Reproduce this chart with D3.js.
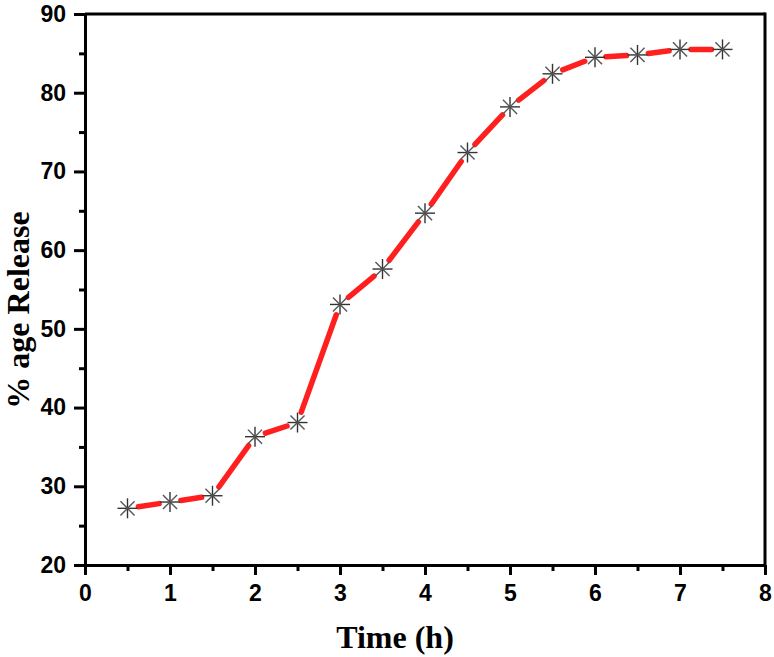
<!DOCTYPE html>
<html lang="en">
<head>
<meta charset="utf-8">
<script src="https://d3js.org/d3.v7.min.js"></script>
<style>
  body { margin: 0; background: #fff; }
  .axis path, .axis line { stroke: #000; stroke-width: 3px; }
  .axis text { font-family: "Liberation Sans", Arial, sans-serif; font-weight: bold; font-size: 23px; fill: #000; }
  .title { font-family: "Liberation Serif", "Times New Roman", serif; font-weight: bold; font-size: 32px; fill: #000; }
</style>
</head>
<body>
<svg width="774" height="657"></svg>
<script>
// release profile
var times = [0.5, 1, 1.5, 2, 2.5, 3, 3.5, 4, 4.5, 5, 5.5, 6, 6.5, 7, 7.5];
var release = [27.2, 28.0, 28.8, 36.3, 38.1, 53.1, 57.6, 64.7, 72.4, 78.2, 82.4, 84.5, 84.8, 85.5, 85.5];
var xTicks = [0, 1, 2, 3, 4, 5, 6, 7, 8];
var yTicks = [20, 30, 40, 50, 60, 70, 80, 90];

var margin = { left: 85, top: 14, right: 9, bottom: 92 };
var width = 774 - margin.left - margin.right;
var height = 657 - margin.top - margin.bottom;

var svg = d3.select("svg");
var g = svg.append("g").attr("transform", "translate(" + margin.left + "," + margin.top + ")");

var x = d3.scaleLinear().domain([0, 8]).range([0, width]);
var y = d3.scaleLinear().domain([20, 90]).range([height, 0]);

// minor ticks first
g.append("g")
  .attr("class", "axis")
  .attr("transform", "translate(0," + height + ")")
  .call(d3.axisBottom(x).tickValues(d3.range(0.5, 8, 1)).tickSize(6).tickFormat(""))
  .select(".domain").remove();
g.append("g")
  .attr("class", "axis")
  .call(d3.axisLeft(y).tickValues(d3.range(25, 90, 10)).tickSize(6).tickFormat(""))
  .select(".domain").remove();

var xAxis = g.append("g")
  .attr("class", "axis")
  .attr("transform", "translate(0," + height + ")")
  .call(d3.axisBottom(x).tickValues(xTicks).tickSize(10).tickSizeOuter(0).tickPadding(10));

var yAxis = g.append("g")
  .attr("class", "axis")
  .call(d3.axisLeft(y).tickValues(yTicks).tickSize(11).tickSizeOuter(0).tickPadding(8));

// top and right frame
g.append("line").attr("x1", 0).attr("x2", width).attr("y1", 0).attr("y2", 0)
  .attr("stroke", "#000").attr("stroke-width", 3);
g.append("line").attr("x1", width).attr("x2", width).attr("y1", 0).attr("y2", height)
  .attr("stroke", "#000").attr("stroke-width", 3).attr("stroke-linecap", "square");

// line segments with gaps at the symbols
var gap = 11;
for (var i = 0; i < times.length - 1; i++) {
  var x1 = x(times[i]), y1 = y(release[i]);
  var x2 = x(times[i + 1]), y2 = y(release[i + 1]);
  var len = Math.hypot(x2 - x1, y2 - y1);
  var ux = (x2 - x1) / len, uy = (y2 - y1) / len;
  g.append("line")
    .attr("x1", x1 + ux * gap).attr("y1", y1 + uy * gap)
    .attr("x2", x2 - ux * gap).attr("y2", y2 - uy * gap)
    .attr("stroke", "#ff1f1f")
    .attr("stroke-width", 5.5)
    .attr("stroke-linecap", "round");
}

// asterisk symbols
var r = 10;
var pts = g.selectAll(".pt")
  .data(times.map(function (t, i) { return [t, release[i]]; }))
  .enter().append("g")
  .attr("class", "pt")
  .attr("transform", function (d) { return "translate(" + x(d[0]) + "," + y(d[1]) + ")"; });
[0, 45, 90, 135].forEach(function (a) {
  var rad = a * Math.PI / 180;
  pts.append("line")
    .attr("x1", -r * Math.cos(rad)).attr("y1", -r * Math.sin(rad))
    .attr("x2", r * Math.cos(rad)).attr("y2", r * Math.sin(rad))
    .attr("stroke", a % 90 === 0 ? "#333" : "#555")
    .attr("stroke-width", 1.4);
});

// axis titles
svg.append("text")
  .attr("class", "title")
  .attr("x", 395)
  .attr("y", 648)
  .attr("text-anchor", "middle")
  .text("Time (h)");

svg.append("text")
  .attr("class", "title")
  .attr("transform", "translate(29,310) rotate(-90)")
  .attr("text-anchor", "middle")
  .text("% age Release");
</script>
</body>
</html>
